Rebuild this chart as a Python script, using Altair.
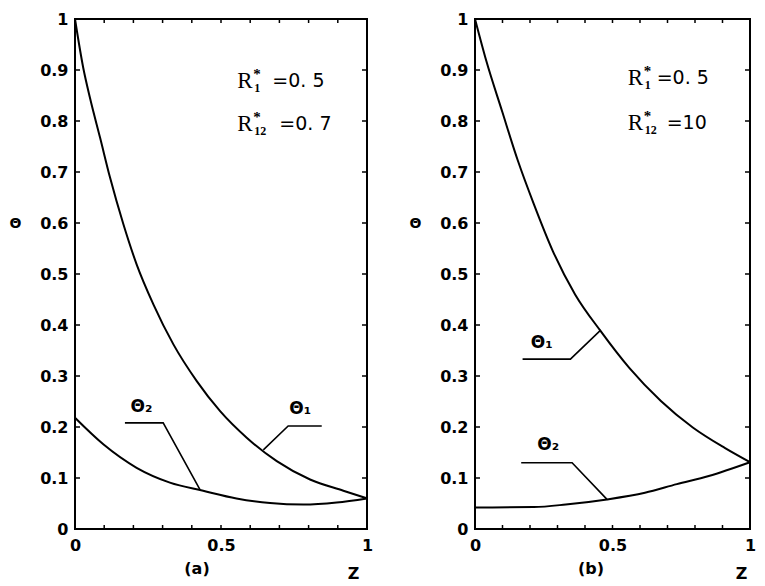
import altair as alt
import pandas as pd

# ---------------- data ----------------
# panel (a)
a_t1_z = [0.0, 0.028, 0.051, 0.086, 0.12, 0.166, 0.211, 0.268, 0.337, 0.417, 0.497, 0.588, 0.691, 0.805, 0.919, 1.0]
a_t1_v = [1.0, 0.905, 0.846, 0.767, 0.689, 0.597, 0.519, 0.441, 0.362, 0.290, 0.231, 0.179, 0.133, 0.097, 0.075, 0.060]
a_t2_z = [0.0, 0.097, 0.211, 0.325, 0.439, 0.553, 0.668, 0.782, 0.896, 1.0]
a_t2_v = [0.218, 0.166, 0.120, 0.091, 0.075, 0.060, 0.051, 0.048, 0.052, 0.060]
# panel (b)
b_t1_z = [0.0, 0.041, 0.098, 0.156, 0.214, 0.283, 0.364, 0.457, 0.561, 0.676, 0.792, 0.908, 1.0]
b_t1_v = [1.0, 0.918, 0.820, 0.722, 0.637, 0.545, 0.460, 0.388, 0.316, 0.251, 0.199, 0.159, 0.131]
b_t2_z = [0.0, 0.214, 0.33, 0.48, 0.618, 0.734, 0.85, 1.0]
b_t2_v = [0.042, 0.043, 0.048, 0.058, 0.071, 0.088, 0.104, 0.131]

# leader lines (label underline + pointer): z, value
a_lead_t2_z = [0.171, 0.302, 0.428]
a_lead_t2_v = [0.208, 0.208, 0.077]
a_lead_t1_z = [0.845, 0.73, 0.645]
a_lead_t1_v = [0.202, 0.202, 0.155]
b_lead_t1_z = [0.173, 0.347, 0.457]
b_lead_t1_v = [0.333, 0.333, 0.390]
b_lead_t2_z = [0.168, 0.353, 0.48]
b_lead_t2_v = [0.130, 0.130, 0.058]

# curve labels
a_lab_text = ["Θ₂", "Θ₁"]
a_lab_z = [0.228, 0.771]
a_lab_v = [0.240, 0.236]
b_lab_text = ["Θ₁", "Θ₂"]
b_lab_z = [0.243, 0.266]
b_lab_v = [0.364, 0.165]

# parameter annotations  R*_1 = ..., R*_12 = ...
a_par_vals = ["=0. 5", "=0. 7"]
b_par_vals = ["=0. 5", "=10"]
par_sub = ["1", "12"]
a_par_z = 0.556
b_par_z = 0.555
a_par_v = [0.879, 0.794]
b_par_v = [0.885, 0.797]
a_val_dx = [35, 42]
b_val_dx = [29, 39]

y_ticks = [0.0, 0.1, 0.2, 0.3, 0.4, 0.5, 0.6, 0.7, 0.8, 0.9, 1.0]
x_label_ticks = [0.0, 0.5, 1.0]
x_minor_ticks = [0.1, 0.2, 0.3, 0.4, 0.5, 0.6, 0.7, 0.8, 0.9]

H = 510


def curve_df(zs, vs, name):
    return pd.DataFrame({"z": zs, "v": vs, "s": name, "o": list(range(len(zs)))})


def panel(W, curves, leaders, lab_text, lab_z, lab_v, par_z, par_v, par_vals, val_dx,
          tag, tag_x, z_dx):
    xs = alt.Scale(domain=[0, 1], nice=False)
    ys = alt.Scale(domain=[0, 1], nice=False)
    xax = alt.Axis(values=x_label_ticks, format="~g", title="Z", titleX=W - z_dx, titleY=36,
                   titleFont="DejaVu Sans", titleFontSize=16, titleFontWeight="bold",
                   labelPadding=8, labelFlush=False)
    yax = alt.Axis(values=y_ticks, format="~g", title="Θ", titleAngle=0, titleX=-60,
                   titleY=H * 0.4, titleBaseline="middle", titleAlign="center",
                   titleFont="DejaVu Sans", titleFontSize=14, titleFontWeight="bold",
                   labelPadding=7, labelFlush=False)

    cdf = pd.concat(curves, ignore_index=True)
    lines = alt.Chart(cdf).mark_line(color="black", strokeWidth=2, interpolate="monotone").encode(
        x=alt.X("z:Q", scale=xs, axis=xax),
        y=alt.Y("v:Q", scale=ys, axis=yax),
        detail="s:N", order="o:Q")

    ldf = pd.concat(leaders, ignore_index=True)
    lead = alt.Chart(ldf).mark_line(color="black", strokeWidth=1.6).encode(
        x=alt.X("z:Q", scale=xs), y=alt.Y("v:Q", scale=ys), detail="s:N", order="o:Q")

    labdf = pd.DataFrame({"t": lab_text, "z": lab_z, "v": lab_v})
    labs = alt.Chart(labdf).mark_text(font="DejaVu Sans", fontSize=17, fontWeight="bold",
                                      color="black").encode(
        x=alt.X("z:Q", scale=xs), y=alt.Y("v:Q", scale=ys), text="t:N")

    n = len(par_v)
    pdf = pd.DataFrame({"z": [par_z] * n, "v": par_v, "sub": par_sub, "val": par_vals,
                        "R": ["R"] * n, "star": ["*"] * n})
    base = alt.Chart(pdf).encode(x=alt.X("z:Q", scale=xs), y=alt.Y("v:Q", scale=ys))
    r_txt = base.mark_text(font="Liberation Serif", fontSize=23, align="left",
                           baseline="middle", color="black").encode(text="R:N")
    star = base.mark_text(font="Liberation Serif", fontSize=15, align="left", dx=16, dy=-7,
                          baseline="middle", color="black", fontWeight="bold").encode(text="star:N")
    sub = base.mark_text(font="Liberation Serif", fontSize=12, align="left", dx=17, dy=7,
                         baseline="middle", color="black", fontWeight="bold").encode(text="sub:N")
    vals = []
    for i in range(n):
        vdf = pdf.iloc[[i]]
        vals.append(alt.Chart(vdf).mark_text(font="DejaVu Sans", fontSize=19, align="left",
                                             dx=val_dx[i], baseline="middle",
                                             color="black").encode(
            x=alt.X("z:Q", scale=xs), y=alt.Y("v:Q", scale=ys), text="val:N"))

    # inside tick marks
    ytdf = pd.DataFrame({"v": y_ticks})
    yt_l = alt.Chart(ytdf).mark_rule(color="black", strokeWidth=1.5).encode(
        y=alt.Y("v:Q", scale=ys), x=alt.value(0), x2=alt.value(5))
    yt_r = alt.Chart(ytdf).mark_rule(color="black", strokeWidth=1.5).encode(
        y=alt.Y("v:Q", scale=ys), x=alt.value(W - 5), x2=alt.value(W))
    xtdf = pd.DataFrame({"z": x_minor_ticks})
    xt_b = alt.Chart(xtdf).mark_rule(color="black", strokeWidth=1.5).encode(
        x=alt.X("z:Q", scale=xs), y=alt.value(H - 4), y2=alt.value(H))
    xt_t = alt.Chart(xtdf).mark_rule(color="black", strokeWidth=1.5).encode(
        x=alt.X("z:Q", scale=xs), y=alt.value(0), y2=alt.value(4))

    tagdf = pd.DataFrame({"t": [tag]})
    tag_m = alt.Chart(tagdf).mark_text(font="DejaVu Sans", fontSize=16, fontWeight="bold",
                                       color="black", baseline="middle").encode(
        text="t:N", x=alt.value(tag_x), y=alt.value(H + 40))

    return alt.layer(lines, lead, labs, r_txt, star, sub, *vals, yt_l, yt_r, xt_b, xt_t,
                     tag_m).properties(width=W, height=H)


WA, WB = 292, 275
pa = panel(WA,
           [curve_df(a_t1_z, a_t1_v, "t1"), curve_df(a_t2_z, a_t2_v, "t2")],
           [curve_df(a_lead_t2_z, a_lead_t2_v, "l2"), curve_df(a_lead_t1_z, a_lead_t1_v, "l1")],
           a_lab_text, a_lab_z, a_lab_v, a_par_z, a_par_v, a_par_vals, a_val_dx,
           "(a)", 122, 14)
pb = panel(WB,
           [curve_df(b_t1_z, b_t1_v, "t1"), curve_df(b_t2_z, b_t2_v, "t2")],
           [curve_df(b_lead_t1_z, b_lead_t1_v, "l1"), curve_df(b_lead_t2_z, b_lead_t2_v, "l2")],
           b_lab_text, b_lab_z, b_lab_v, b_par_z, b_par_v, b_par_vals, b_val_dx,
           "(b)", 116, 9)

chart = alt.hconcat(pa, pb, spacing=108, bounds="flush").properties(
    padding={"left": 0, "top": 2, "right": 0, "bottom": 0},
    background="white"
).configure_view(stroke="black", strokeWidth=2).configure_axis(
    grid=False, ticks=False, tickSize=0, domain=False,
    labelFont="DejaVu Sans", labelFontSize=16, labelFontWeight="bold", labelColor="black",
    titleColor="black"
)

chart.save("out.html", embed_options={"renderer": "svg", "actions": False})
